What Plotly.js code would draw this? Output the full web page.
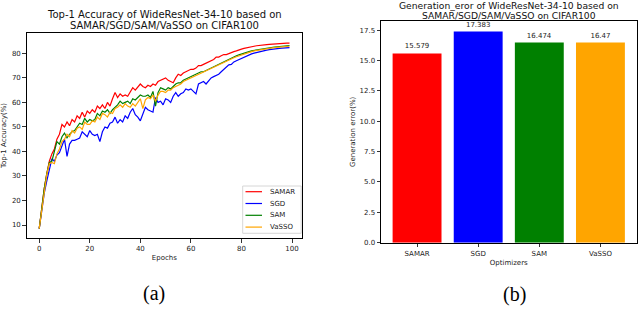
<!DOCTYPE html>
<html>
<head>
<meta charset="utf-8">
<script src="https://cdn.plot.ly/plotly-3.0.1.min.js"></script>
<style>html,body{margin:0;padding:0;background:#fff;}#chart{width:640px;height:309px;}</style>
</head>
<body>
<div id="chart"></div>
<script>
// ---------- data ----------
const epochs = Array.from({length: 100}, (_, i) => i);
const samarAcc = [8.5,17,25,31,36,39,41,45,47,51,50,52,50.5,53,52,54.5,53.5,56,54,56.5,55.5,57,56,58.5,57.5,59,57.5,60,58.5,61.5,64,62,63.5,62.5,63,62.5,64,66,65,66.5,67.5,66.5,66,67,66.5,67.5,67,68.5,69,69.5,70,69,68.5,68,70,71.5,71,72,72.5,73,73.5,73.5,74,75,75,75.5,76,76.5,77,77.5,78.5,78.5,79,79.5,79.5,80,80.3,80.7,81,81.5,81.7,82,82.3,82.5,82.7,82.9,83.1,83.3,83.4,83.5,83.6,83.7,83.8,83.9,84,84,84.1,84.1,84.2,84.2];
const sgdAcc = [8.5,16,23,28,33,37,36,38.5,39.5,42,45,38,43,44.5,44.5,45,45.5,48,47,46,48.5,47,46.5,47,44,48,50,49.5,51.5,52,54,51.5,53,52,54.5,53.5,56,57.5,55,54,52.5,55.5,58,57,56.5,56,62,60,60.5,59,61.5,61,60,62.5,64,62.5,63.5,64,65.5,65,65.5,64.5,63.5,67.5,68,68.5,67.5,69,70,70.5,71,71.5,72.5,73.5,74.5,75.3,75.5,76.5,77,77.5,78,78.5,79,79.4,79.8,80.1,80.4,80.7,80.9,81.1,81.3,81.5,81.7,81.8,81.9,82,82.1,82.2,82.3,82.3];
const samAcc = [8.5,17,25,31,35.5,36,40,44,43,46,47.5,45.5,47,48,48.5,50,51.5,51,53.5,52,53,52.5,53,55.5,54.5,56.5,56,57,55.5,57,58,59,60.5,59.5,60,60.5,59.5,61.5,61,62,63,62.5,62.5,63,62,64.5,58.5,64,66,65.5,65,66,65.5,66.5,67.5,68,68,69,69.5,70,70.5,71,71.5,72,72.5,72.5,73,73.5,74,74.5,75,75.5,76,76.8,77.3,77.5,78,78.5,79,79.4,79.8,80.2,80.5,80.7,81,81.2,81.5,81.7,81.9,82,82.2,82.3,82.4,82.6,82.7,82.8,82.9,83,83.1,83.2];
const vassoAcc = [8.5,16.5,24.5,30.5,35,35.5,35,39,41,44,45,47,46,48.5,47.5,49.5,50,49,52,51,51,52.5,52,54,53,55.5,55,54,56,55.5,57.5,58,59,58,59.5,58.5,58,59.5,58.5,60,61.5,57.5,61,62,61.5,63,60.5,63,64.5,64.5,64,65,65,66,66.5,67,67.5,68.5,69,69.5,70,70.5,71,71.5,72,72.5,73,73.5,74,74.5,75,75.5,76,76.5,77,77.4,77.8,78.2,78.6,79,79.4,79.8,80.1,80.4,80.7,81,81.2,81.4,81.6,81.8,82,82.1,82.2,82.3,82.4,82.5,82.6,82.7,82.8,82.9];

const optimizers = ["SAMAR", "SGD", "SAM", "VaSSO"];
const genError = [15.579, 17.383, 16.474, 16.47];
const genErrorLabels = ["15.579", "17.383", "16.474", "16.47"];

const accTicks = [10, 20, 30, 40, 50, 60, 70, 80];
const epochTicks = [0, 20, 40, 60, 80, 100];
const errTicks = [0, 2.5, 5, 7.5, 10, 12.5, 15, 17.5];

const titleA = ["Top-1 Accuracy of WideResNet-34-10 based on", "SAMAR/SGD/SAM/VaSSO on CIFAR100"];
const titleB = ["Generation_eror of WideResNet-34-10 based on", "SAMAR/SGD/SAM/VaSSO on CIFAR100"];

const seriesColors = ["#ff0000", "#0000ff", "#008000", "#ffa500"];

// ---------- layout helpers (pixel -> paper) ----------
const W = 640, H = 309;
const px = x => x / W;
const py = y => 1 - y / H;
const FONT = "DejaVu Sans, sans-serif";

const accSeries = [samarAcc, sgdAcc, samAcc, vassoAcc];
const traces = accSeries.map((ys, i) => ({
  type: "scatter", mode: "lines", x: epochs, y: ys,
  name: optimizers[i], xaxis: "x", yaxis: "y",
  line: {color: seriesColors[i], width: 1.2}, showlegend: false
}));
traces.push({
  type: "bar", x: optimizers, y: genError, xaxis: "x2", yaxis: "y2",
  marker: {color: seriesColors, line: {width: 0}}, width: 0.8,
  text: genErrorLabels, textposition: "outside", cliponaxis: false,
  textfont: {family: FONT, size: 7, color: "#222"}, showlegend: false
});

const axisCommon = {
  showgrid: false, zeroline: false, showline: true, mirror: true,
  linecolor: "#000", linewidth: 1, ticks: "outside", ticklen: 3.5,
  tickwidth: 0.8, tickcolor: "#000", tickfont: {family: FONT, size: 7, color: "#222"},
  automargin: false
};

const annotations = [];
function addTitle(lines, cx, yTop, size, gap) {
  lines.forEach((t, k) => annotations.push({
    text: t, xref: "paper", yref: "paper", x: px(cx), y: py(yTop + gap * k),
    xanchor: "center", yanchor: "middle", showarrow: false,
    font: {family: FONT, size: size, color: "#111"}
  }));
}
addTitle(titleA, 164, 14.3, 10, 11);
addTitle(titleB, 509, 5.8, 9.2, 10);

annotations.push(
  {text: "(a)", xref: "paper", yref: "paper", x: px(154), y: py(293), xanchor: "center", yanchor: "middle",
   showarrow: false, font: {family: "Liberation Serif, serif", size: 20, color: "#000"}},
  {text: "(b)", xref: "paper", yref: "paper", x: px(514), y: py(294), xanchor: "center", yanchor: "middle",
   showarrow: false, font: {family: "Liberation Serif, serif", size: 20, color: "#000"}}
);

// manual legend (compact, like matplotlib)
const legendRows = [191.7, 203.5, 215.3, 227.1];
const shapes = [{
  type: "rect", xref: "paper", yref: "paper",
  x0: px(242.7), x1: px(301.2), y0: py(186), y1: py(233.3),
  line: {color: "#cccccc", width: 0.8}, fillcolor: "rgba(255,255,255,0.85)", layer: "above"
}];
optimizers.forEach((name, i) => {
  shapes.push({type: "line", xref: "paper", yref: "paper",
    x0: px(245.5), x1: px(262), y0: py(legendRows[i]), y1: py(legendRows[i]),
    line: {color: seriesColors[i], width: 1.2}, layer: "above"});
  annotations.push({text: name, xref: "paper", yref: "paper", x: px(268), y: py(legendRows[i]),
    xanchor: "left", yanchor: "middle", showarrow: false,
    font: {family: FONT, size: 7, color: "#222"}});
});

const layout = {
  width: W, height: H, margin: {l: 0, r: 0, t: 0, b: 0},
  paper_bgcolor: "#fff", plot_bgcolor: "#fff", showlegend: false,
  xaxis: Object.assign({}, axisCommon, {
    domain: [px(26.7), px(302)], range: [-4.95, 103.95],
    tickvals: epochTicks, anchor: "y",
    title: {text: "Epochs", font: {family: FONT, size: 7, color: "#222"}, standoff: 3}
  }),
  yaxis: Object.assign({}, axisCommon, {
    domain: [py(238), py(33)], range: [4.7, 88.3],
    tickvals: accTicks, anchor: "x",
    title: {text: "Top-1 Accuracy(%)", font: {family: FONT, size: 7, color: "#222"}, standoff: 4}
  }),
  xaxis2: Object.assign({}, axisCommon, {
    domain: [px(381), px(636.5)], range: [-0.59, 3.59], type: "category",
    anchor: "y2",
    title: {text: "Optimizers", font: {family: FONT, size: 7, color: "#222"}, standoff: 3}
  }),
  yaxis2: Object.assign({}, axisCommon, {
    domain: [py(242.7), py(21)], range: [0, 18.25],
    tickvals: errTicks, tickformat: ".1f", anchor: "x2",
    title: {text: "Generation error(%)", font: {family: FONT, size: 7, color: "#222"}, standoff: 3}
  }),
  bargap: 0.2,
  annotations: annotations,
  shapes: shapes
};

Plotly.newPlot("chart", traces, layout, {displayModeBar: false, staticPlot: true});
</script>
</body>
</html>
